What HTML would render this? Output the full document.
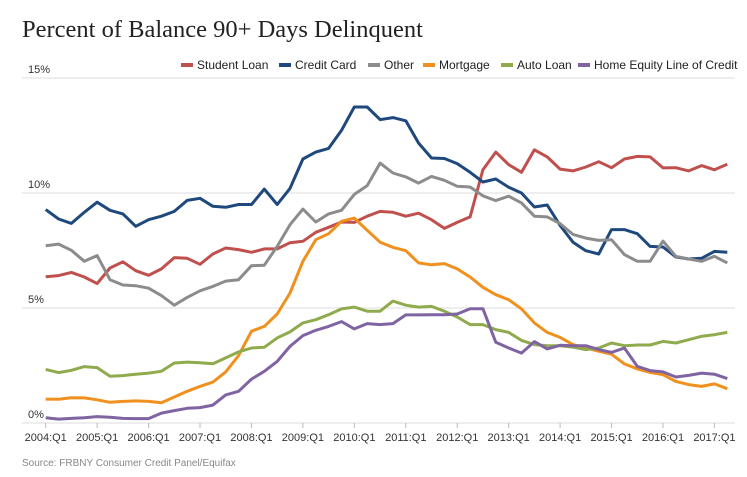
<!DOCTYPE html>
<html><head><meta charset="utf-8"><style>
body{margin:0;background:#fff;width:747px;height:472px;overflow:hidden}
svg text{font-family:"Liberation Sans",Arial,sans-serif}
</style></head><body>
<svg id="chart" width="747" height="472">
<text x="22" y="37" style="font-family:'Liberation Serif',serif" font-size="24.5" fill="#222">Percent of Balance 90+ Days Delinquent</text>
<text x="22" y="466" font-size="10" fill="#888">Source: FRBNY Consumer Credit Panel/Equifax</text>
<g id="grid"></g><g id="xaxis"></g><g id="lines"></g><g id="legend"></g>
</svg>
<script>
const quarterCount = 54;
const yTicks = [0, 5, 10, 15];
const xTickLabels = ["2004:Q1","2005:Q1","2006:Q1","2007:Q1","2008:Q1","2009:Q1","2010:Q1","2011:Q1","2012:Q1","2013:Q1","2014:Q1","2015:Q1","2016:Q1","2017:Q1"];
const seriesNames = ["Student Loan","Credit Card","Other","Mortgage","Auto Loan","Home Equity Line of Credit"];
const studentLoan = [6.36,6.41,6.55,6.35,6.06,6.74,7.01,6.62,6.42,6.7,7.19,7.16,6.9,7.35,7.61,7.54,7.42,7.57,7.57,7.84,7.9,8.29,8.51,8.74,8.72,8.99,9.2,9.16,8.99,9.12,8.84,8.46,8.72,8.96,11.01,11.78,11.23,10.9,11.88,11.57,11.04,10.96,11.13,11.36,11.1,11.48,11.59,11.57,11.09,11.1,10.96,11.19,11.01,11.25];
const creditCard = [9.28,8.87,8.68,9.16,9.6,9.25,9.09,8.55,8.84,8.99,9.2,9.68,9.77,9.42,9.38,9.5,9.5,10.17,9.5,10.2,11.48,11.78,11.94,12.72,13.74,13.74,13.19,13.28,13.14,12.17,11.52,11.5,11.28,10.9,10.48,10.61,10.25,10,9.39,9.48,8.59,7.86,7.49,7.35,8.41,8.41,8.23,7.68,7.65,7.22,7.13,7.16,7.46,7.42];
const other = [7.71,7.78,7.51,7.03,7.28,6.23,6,5.97,5.86,5.54,5.12,5.46,5.75,5.94,6.17,6.23,6.84,6.86,7.68,8.62,9.3,8.74,9.09,9.25,9.94,10.32,11.3,10.87,10.7,10.43,10.72,10.55,10.29,10.26,9.88,9.67,9.86,9.57,8.99,8.96,8.67,8.2,8.04,7.94,7.97,7.32,7.03,7.03,7.91,7.25,7.13,7.03,7.25,6.96];
const mortgage = [1.04,1.03,1.1,1.09,1.01,0.9,0.94,0.96,0.94,0.88,1.13,1.38,1.59,1.78,2.22,2.93,3.99,4.2,4.74,5.65,7.03,7.97,8.23,8.77,8.91,8.38,7.86,7.64,7.49,6.96,6.88,6.93,6.7,6.35,5.9,5.58,5.36,4.96,4.35,3.94,3.72,3.41,3.26,3.12,2.99,2.57,2.35,2.2,2.1,1.81,1.67,1.59,1.7,1.49];
const autoLoan = [2.33,2.19,2.29,2.45,2.41,2.03,2.06,2.12,2.17,2.25,2.61,2.65,2.62,2.58,2.83,3.09,3.26,3.29,3.7,3.96,4.35,4.49,4.71,4.96,5.04,4.86,4.86,5.3,5.12,5.04,5.07,4.86,4.61,4.28,4.28,4.06,3.94,3.59,3.41,3.36,3.36,3.3,3.19,3.26,3.48,3.36,3.39,3.39,3.55,3.48,3.62,3.77,3.84,3.94];
const heloc = [0.23,0.17,0.2,0.23,0.28,0.25,0.2,0.19,0.19,0.43,0.54,0.64,0.67,0.78,1.22,1.38,1.91,2.25,2.68,3.33,3.8,4.03,4.2,4.41,4.09,4.32,4.28,4.32,4.7,4.7,4.71,4.71,4.74,4.97,4.97,3.51,3.26,3.04,3.54,3.22,3.38,3.36,3.36,3.19,3.07,3.26,2.46,2.28,2.22,2,2.07,2.17,2.12,1.93];

const NS="http://www.w3.org/2000/svg";
const X0=45.7, DX=12.86, Y0=423, YS=23;
function xs(i){return X0+DX*i;}
function ys(v){return Y0-YS*v;}
function mk(tag,attrs,parent){const e=document.createElementNS(NS,tag);for(const k in attrs)e.setAttribute(k,attrs[k]);parent.appendChild(e);return e;}
const grid=document.getElementById('grid');
yTicks.forEach(t=>{
  const l=mk('line',{x1:22,x2:735,y1:ys(t),y2:ys(t),stroke:'#ddd','stroke-width':1},grid);
  
  
  const tx=mk('text',{x:28,y:ys(t)-5,'font-size':11,fill:'#333'},grid);
  tx.textContent=t+'%';
  
  
});
const xa=document.getElementById('xaxis');
xTickLabels.forEach((lab,k)=>{
  const x=xs(k*4);
  const tk=mk('line',{x1:x,x2:x,y1:Y0,y2:Y0+5,stroke:'#bbb'},xa);
  
  
  const tx=mk('text',{x:x,y:441,'font-size':11,fill:'#333','text-anchor':'middle'},xa);
  tx.textContent=lab;
  
  
});
const colors=['#c0504d','#1f497d','#8c8c8c','#f0901e','#8fab4e','#8064a2'];
const data=[studentLoan,creditCard,other,mortgage,autoLoan,heloc];
const lg=document.getElementById('lines');
data.forEach((arr,s)=>{
  const d=arr.slice(0,quarterCount).map((v,i)=>(i?'L':'M')+xs(i).toFixed(1)+' '+ys(v).toFixed(1)).join(' ');
  const p=mk('path',{d:d,fill:'none',stroke:colors[s],'stroke-width':3,'stroke-linejoin':'round'},lg);
  
  
});
const legX=[181,279,368,423,501,578];
const leg=document.getElementById('legend');
seriesNames.forEach((n,s)=>{
  const g=mk('g',{},leg);
  
  
  mk('rect',{x:legX[s],y:63,width:12,height:4,fill:colors[s]},g);
  const t=mk('text',{x:legX[s]+16,y:69,'font-size':12,fill:'#222'},g);
  t.textContent=n;
});
</script>
</body></html>
